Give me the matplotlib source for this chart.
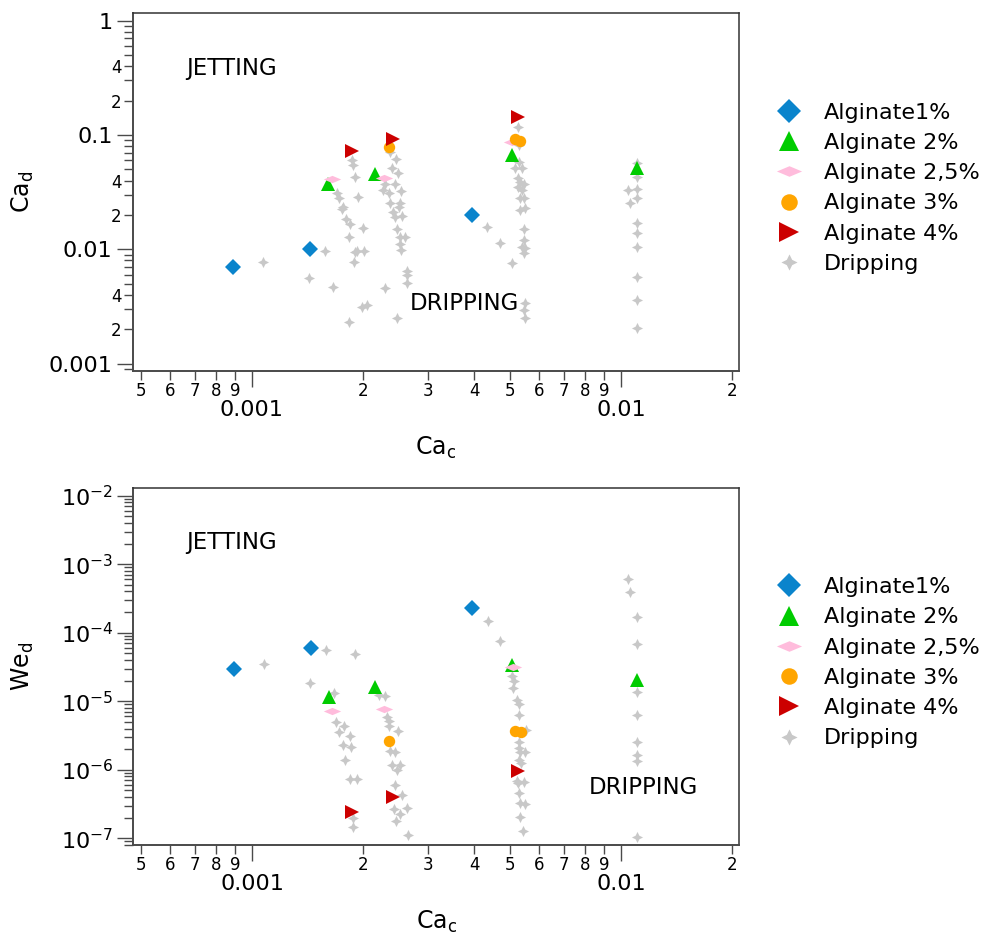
import math
import matplotlib
matplotlib.use("Agg")
import matplotlib.pyplot as plt
from matplotlib.ticker import FixedLocator, FuncFormatter, NullFormatter

# ---------------- data ----------------
labels = ["Alginate1%", "Alginate 2%", "Alginate 2,5%", "Alginate 3%", "Alginate 4%", "Dripping"]

ca_c_1 = [8.92e-4, 1.44e-3, 3.94e-3]
ca_d_1 = [7.07e-3, 1.01e-2, 2.00e-2]
we_d_1 = [2.98e-5, 5.96e-5, 2.33e-4]

ca_c_2 = [1.61e-3, 2.155e-3, 5.06e-3, 1.107e-2]
ca_d_2 = [0.0371, 0.0454, 0.067, 0.0513]
we_d_2 = [1.135e-5, 1.59e-5, 3.33e-5, 2.01e-5]

ca_c_25 = [1.65e-3, 2.28e-3, 5.08e-3]
ca_d_25 = [0.0413, 0.0425, 0.0865]
we_d_25 = [7.27e-6, 7.78e-6, 3.21e-5]

ca_c_3 = [2.35e-3, 5.15e-3, 5.34e-3]
ca_d_3 = [0.0792, 0.0919, 0.0894]
we_d_3 = [2.59e-6, 3.72e-6, 3.51e-6]

ca_c_4 = [1.866e-3, 2.409e-3, 5.252e-3]
ca_d_4 = [0.0726, 0.0925, 0.1448]
we_d_4 = [2.43e-7, 4.01e-7, 9.7e-7]

drip_top_ca_c = [1.075e-3, 1.58e-3, 1.432e-3, 1.663e-3, 1.698e-3, 1.724e-3, 1.770e-3, 1.759e-3,
                 1.797e-3, 1.845e-3, 1.837e-3, 1.904e-3, 1.892e-3, 1.924e-3, 2.018e-3, 2.001e-3,
                 1.944e-3, 1.904e-3, 1.877e-3, 1.869e-3, 1.985e-3, 2.048e-3, 1.837e-3,
                 2.297e-3, 2.479e-3, 2.369e-3, 2.459e-3, 2.398e-3, 2.485e-3, 2.443e-3, 2.296e-3,
                 2.271e-3, 2.358e-3, 2.542e-3, 2.369e-3, 2.521e-3, 2.510e-3, 2.418e-3, 2.443e-3,
                 2.557e-3, 2.470e-3, 2.521e-3, 2.606e-3, 2.521e-3, 2.537e-3, 2.629e-3, 2.629e-3,
                 2.639e-3,
                 4.328e-3, 4.702e-3, 5.08e-3,
                 5.25e-3, 5.30e-3, 5.30e-3, 5.17e-3, 5.38e-3, 5.25e-3, 5.33e-3, 5.46e-3, 5.25e-3,
                 5.38e-3, 5.33e-3, 5.46e-3, 5.33e-3, 5.50e-3, 5.46e-3, 5.46e-3, 5.38e-3, 5.50e-3,
                 5.46e-3, 5.50e-3, 5.46e-3, 5.51e-3,
                 1.107e-2, 1.107e-2, 1.107e-2, 1.107e-2, 1.107e-2, 1.107e-2, 1.107e-2, 1.107e-2,
                 1.107e-2, 1.107e-2, 1.042e-2, 1.059e-2]
drip_top_ca_d = [7.73e-3, 9.76e-3, 5.67e-3, 4.67e-3, 0.031, 0.0280, 0.0237, 0.0225,
                 0.01836, 0.0167, 0.01294, 9.57e-3, 7.73e-3, 9.77e-3, 9.77e-3, 0.01552,
                 0.0286, 0.0428, 0.0548, 0.0606, 3.12e-3, 3.25e-3, 2.31e-3,
                 4.58e-3, 2.535e-3, 0.0716, 0.0618, 0.0519, 0.0464, 0.0374, 0.0372,
                 0.0331, 0.0314, 0.0325, 0.02565, 0.02535, 0.0234, 0.0214, 0.01936,
                 0.01963, 0.0151, 0.01279, 0.01294, 0.01117, 9.9e-3, 6.53e-3, 5.98e-3,
                 5.13e-3,
                 0.0158, 0.01146, 7.67e-3,
                 0.1184, 0.0819, 0.0586, 0.0513, 0.0513, 0.0419, 0.0392, 0.0374, 0.0354,
                 0.0331, 0.0280, 0.0280, 0.0221, 0.0229, 0.0151, 0.0121, 0.0106, 0.0102,
                 9.27e-3, 3.39e-3, 2.96e-3, 2.51e-3,
                 0.0567, 0.0433, 0.0336, 0.0280, 0.01715, 0.01402, 0.01057, 5.71e-3,
                 3.62e-3, 2.05e-3, 0.0331, 0.02565]

drip_bot_ca_c = [1.075e-3, 1.58e-3, 1.904e-3, 1.432e-3, 1.663e-3, 1.688e-3, 1.724e-3, 1.778e-3,
                 1.845e-3, 1.759e-3, 1.854e-3, 1.788e-3, 1.837e-3, 1.924e-3, 1.877e-3, 1.87e-3,
                 2.202e-3, 2.297e-3, 2.325e-3, 2.344e-3, 2.354e-3, 2.479e-3, 2.358e-3, 2.433e-3,
                 2.392e-3, 2.521e-3, 2.470e-3, 2.443e-3, 2.553e-3, 2.418e-3, 2.510e-3, 2.629e-3,
                 2.453e-3, 2.639e-3,
                 4.345e-3, 4.70e-3,
                 5.06e-3, 5.13e-3, 5.08e-3, 5.21e-3, 5.30e-3, 5.27e-3, 5.53e-3, 5.30e-3,
                 5.27e-3, 5.33e-3, 5.50e-3, 5.35e-3, 5.21e-3, 5.46e-3, 5.30e-3, 5.33e-3,
                 5.50e-3, 5.33e-3, 5.41e-3, 5.30e-3, 5.25e-3,
                 1.042e-2, 1.059e-2, 1.107e-2, 1.107e-2, 1.107e-2, 1.107e-2, 1.107e-2,
                 1.107e-2, 1.107e-2, 1.107e-2]
drip_bot_we_d = [3.48e-5, 5.64e-5, 4.87e-5, 1.84e-5, 1.32e-5, 4.98e-6, 3.51e-6, 4.29e-6,
                 3.14e-6, 2.27e-6, 2.15e-6, 1.40e-6, 7.34e-7, 7.41e-7, 1.45e-7, 1.98e-7,
                 1.245e-5, 1.20e-5, 5.89e-6, 5.08e-6, 4.30e-6, 3.72e-6, 1.85e-6, 1.82e-6,
                 1.19e-6, 1.19e-6, 1.00e-6, 5.93e-7, 4.34e-7, 2.69e-7, 2.29e-7, 2.77e-7,
                 1.81e-7, 1.13e-7,
                 1.46e-4, 7.69e-5,
                 2.30e-5, 1.95e-5, 1.56e-5, 1.05e-5, 9.2e-6, 6.36e-6, 3.85e-6, 2.51e-6,
                 2.08e-6, 1.79e-6, 1.79e-6, 1.26e-6, 6.78e-7, 6.55e-7, 4.59e-7, 3.28e-7,
                 3.21e-7, 2.05e-7, 1.26e-7, 1.40e-6, 6.43e-7,
                 6.11e-4, 3.91e-4, 1.69e-4, 6.83e-5, 1.36e-5, 6.36e-6, 2.51e-6,
                 1.66e-6, 1.33e-6, 1.04e-7]

# ---------------- styles ----------------
C_BLUE = "#0a84cc"
C_GREEN = "#00cc00"
C_PINK = "#ffbcdc"
C_ORANGE = "#ffa500"
C_RED = "#cc0000"
C_GRAY = "#c8c8c8"
TICK_C = "#4a4a4a"

pink_marker = [(-1, 0), (0, 0.42), (1, 0), (0, -0.42), (-1, 0)]
r = 0.33
star_marker = [(0, 1), (r, r), (1, 0), (r, -r), (0, -1), (-r, -r), (-1, 0), (-r, r), (0, 1)]

plt.rcParams["font.family"] = ["DejaVu Sans"]

fig = plt.figure(figsize=(9.9, 9.34), dpi=100)
ax1 = fig.add_axes([0.1340, 0.6031, 0.6127, 0.3827])
ax2 = fig.add_axes([0.1346, 0.0953, 0.6121, 0.3819])

XLIM = (4.76e-4, 2.089e-2)


def mant(v):
    e = math.floor(math.log10(v) + 1e-9)
    return int(round(v / 10 ** e))


def draw(ax, ys, drip_x, drip_y):
    y1, y2, y25, y3, y4 = ys
    hd, = ax.plot(drip_x, drip_y, ls="none", marker=star_marker, ms=8, color=C_GRAY, mew=0, zorder=2)
    h1, = ax.plot(ca_c_1, y1, ls="none", marker="D", ms=8.6, color=C_BLUE, mew=0, zorder=3)
    h2, = ax.plot(ca_c_2, y2, ls="none", marker="^", ms=9.5, color=C_GREEN, mew=0, zorder=3)
    h25, = ax.plot(ca_c_25, y25, ls="none", marker=pink_marker, ms=12.5, color=C_PINK, mew=0, zorder=3)
    h3, = ax.plot(ca_c_3, y3, ls="none", marker="o", ms=8.2, color=C_ORANGE, mew=0, zorder=3)
    h4, = ax.plot(ca_c_4, y4, ls="none", marker=">", ms=9.5, color=C_RED, mew=0, zorder=3)
    ax.set_xscale("log")
    ax.set_yscale("log")
    ax.set_xlim(*XLIM)

    # x ticks
    ax.xaxis.set_major_locator(FixedLocator([1e-3, 1e-2]))
    ax.xaxis.set_major_formatter(FuncFormatter(lambda v, p: f"{v:g}"))
    xminor = [m * 10.0 ** e for e in (-4, -3, -2) for m in range(2, 10)]
    ax.xaxis.set_minor_locator(FixedLocator(xminor))
    ax.xaxis.set_minor_formatter(FuncFormatter(lambda v, p: str(mant(v))))
    ax.tick_params(axis="x", which="major", length=11.5, width=1, color=TICK_C,
                   labelsize=16, pad=9.5)
    ax.tick_params(axis="x", which="minor", length=6.3, width=1, color=TICK_C,
                   labelsize=12, pad=1.5)
    ax.tick_params(axis="y", which="major", length=11.5, width=1, color=TICK_C,
                   labelsize=16, pad=3)
    ax.tick_params(axis="y", which="minor", length=6.3, width=1, color=TICK_C,
                   labelsize=12, pad=1.5)
    for s in ax.spines.values():
        s.set_linewidth(1.1)
        s.set_color("#333333")
    ax.spines["left"].set_color(TICK_C)
    ax.spines["bottom"].set_color(TICK_C)
    ax.spines["left"].set_linewidth(1.4)
    ax.spines["bottom"].set_linewidth(1.4)
    ax.set_xlabel(r"$\mathregular{Ca_c}$", fontsize=17)
    return [h1, h2, h25, h3, h4, hd]


handles = draw(ax1, [ca_d_1, ca_d_2, ca_d_25, ca_d_3, ca_d_4], drip_top_ca_c, drip_top_ca_d)
ax1.set_ylim(8.7e-4, 1.16)
ax1.yaxis.set_major_locator(FixedLocator([1e-3, 1e-2, 1e-1, 1]))
ax1.yaxis.set_major_formatter(FuncFormatter(lambda v, p: f"{v:g}"))
yminor = [m * 10.0 ** e for e in (-4, -3, -2, -1, 0) for m in range(2, 10)]
ax1.yaxis.set_minor_locator(FixedLocator(yminor))
ax1.yaxis.set_minor_formatter(FuncFormatter(lambda v, p: str(mant(v)) if mant(v) in (2, 4) else ""))
ax1.set_ylabel(r"$\mathregular{Ca_d}$", fontsize=17)

handles2 = draw(ax2, [we_d_1, we_d_2, we_d_25, we_d_3, we_d_4], drip_bot_ca_c, drip_bot_we_d)
ax2.set_ylim(7.98e-8, 1.282e-2)
ax2.yaxis.set_major_locator(FixedLocator([10.0 ** e for e in range(-8, 0)]))
ax2.yaxis.set_major_formatter(FuncFormatter(
    lambda v, p: r"$\mathregular{10^{%d}}$" % round(math.log10(v))))
yminor2 = [m * 10.0 ** e for e in range(-8, -1) for m in range(2, 10)]
ax2.yaxis.set_minor_locator(FixedLocator(yminor2))
ax2.yaxis.set_minor_formatter(NullFormatter())
ax2.set_ylabel(r"$\mathregular{We_d}$", fontsize=17)

for ax in (ax1, ax2):
    ax.xaxis.set_label_coords(0.5, -0.18)
    ax.yaxis.set_label_coords(-0.16, 0.5)

# region annotations
ax1.text(0.088, 0.845, "JETTING", transform=ax1.transAxes, fontsize=16.5, va="center", ha="left")
ax1.text(0.457, 0.187, "DRIPPING", transform=ax1.transAxes, fontsize=16.5, va="center", ha="left")
ax2.text(0.088, 0.847, "JETTING", transform=ax2.transAxes, fontsize=16.5, va="center", ha="left")
ax2.text(0.752, 0.160, "DRIPPING", transform=ax2.transAxes, fontsize=16.5, va="center", ha="left")

leg_kw = dict(loc="upper left", bbox_transform=fig.transFigure, frameon=False,
              fontsize=16, markerscale=1.45, handlelength=1.0, handletextpad=1.05,
              labelspacing=0.46, borderpad=0, borderaxespad=0)
ax1.legend(handles, labels, bbox_to_anchor=(0.786, 0.890), **leg_kw)
ax2.legend(handles2, labels, bbox_to_anchor=(0.786, 0.382), **leg_kw)

fig.savefig("out.png", dpi=100)
